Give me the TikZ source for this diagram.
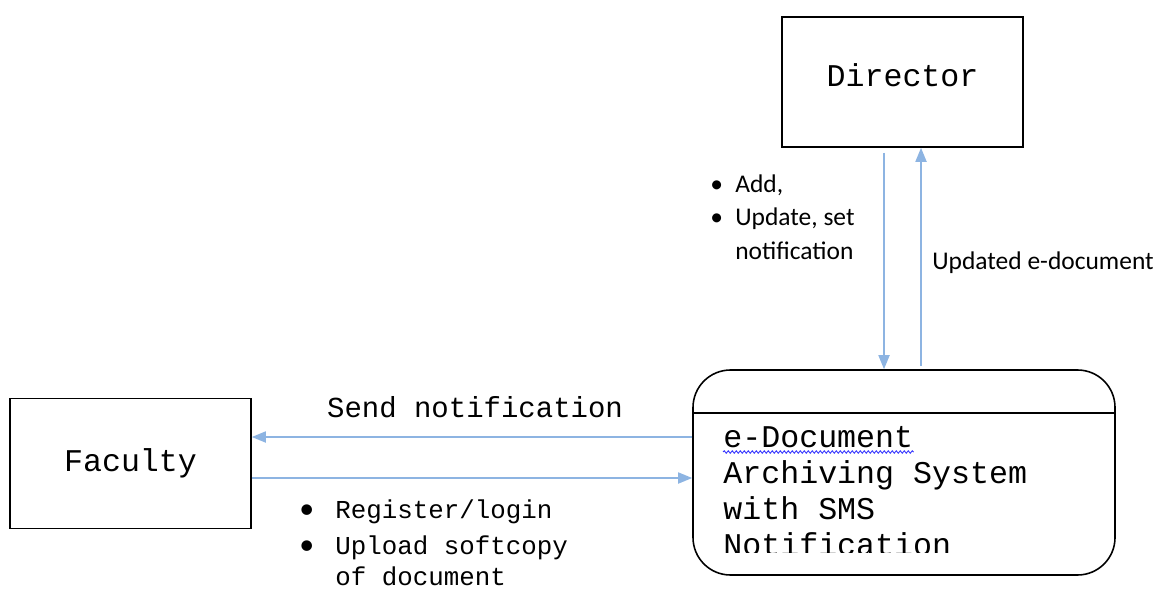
\documentclass[tikz,border=0pt]{standalone}
\usepackage{fontspec}
\setmainfont{Liberation Mono}
\newfontfamily\labelfont{Carlito}
\usetikzlibrary{arrows.meta,decorations.pathmorphing}
\definecolor{flowblue}{RGB}{141,180,226}
\tikzset{
    entity/.style={draw, line width=0.9pt, minimum width=4.82cm, minimum height=2.6cm, font=\fontsize{18}{20}\selectfont},
    flow/.style={draw=flowblue, line width=1pt, -{Triangle[length=0.28cm, width=0.22cm]}, fill=flowblue},
    systext/.style={anchor=base west, inner sep=0pt, font=\fontsize{18}{20}\selectfont},
    monolabel/.style={anchor=base west, inner sep=0pt, font=\fontsize{14.7}{17}\selectfont},
    dotlabel/.style={anchor=base west, inner sep=0pt, font=\labelfont\fontsize{17}{17}\selectfont},
    sanslabel/.style={anchor=base west, inner sep=0pt, font=\labelfont\fontsize{14.5}{17}\selectfont}
}
\begin{document}
\begin{tikzpicture}
            \useasboundingbox (0,0) rectangle (23.22,11.8);

            \node[entity] (fac) at (2.61, 2.53) {Faculty};
            \node[entity, text depth=0.28cm] (dir) at (18.05, 10.16) {Director};
            \node[draw, line width=0.9pt, rounded corners=0.75cm, minimum width=8.44cm, minimum height=4.1cm] (sys) at (18.08, 2.35) {};
            \draw[line width=0.9pt] (sys.west |- 0,3.54) -- (sys.east |- 0,3.54);

            % text of the store, cut at the bottom
            \begin{scope}
                \clip (13.9, 3.5) rectangle (22.2, 0.75);
                \node[systext] (t1) at (14.46, 2.86) {e-Document};
                \node[systext] (t2) at (14.46, 2.14) {Archiving System};
                \node[systext] (t3) at (14.46, 1.42) {with SMS};
                \node[systext] (t4) at (14.46, 0.70) {Notification};
            \end{scope}
            \draw[blue!80!white, line width=0.5pt, decorate, decoration={snake, amplitude=0.025cm, segment length=0.08cm}] (14.46, 2.76) -- (t1.base east |- 0,2.76);

            \coordinate (s1) at ([yshift=0.53cm]fac.east);
            \coordinate (s2) at ([yshift=-0.29cm]fac.east);
            \coordinate (d1) at ([xshift=-0.37cm, yshift=-0.1cm]dir.south);
            \coordinate (d2) at ([xshift=0.37cm]dir.south);

            \draw[flow] (s1 -| sys.west) -- (s1);
            \draw[flow] (s2) -- (s2 -| sys.west);
            \draw[flow] (d1) -- (d1 |- sys.north);
            \draw[flow] ([yshift=0.06cm]d2 |- sys.north) -- (d2);

            \node[font=\fontsize{16.5}{18}\selectfont] (lsend) at (9.5, 3.66) {Send notification};

            \node[dotlabel] (b1) at (5.98, 1.44) {\textbullet};
            \node[monolabel] (l1) at (6.7, 1.44) {Register/login};
            \node[dotlabel] (b2) at (5.98, 0.72) {\textbullet};
            \node[monolabel] (l2) at (6.7, 0.72) {Upload softcopy};
            \node[monolabel] (l3) at (6.7, 0.10) {of document};

            \node[sanslabel] (b3) at (14.2, 7.94) {\textbullet};
            \node[sanslabel] (l4) at (14.7, 7.94) {Add,};
            \node[sanslabel] (b4) at (14.2, 7.28) {\textbullet};
            \node[sanslabel] (l5) at (14.7, 7.28) {Update, set};
            \node[sanslabel] (l6) at (14.7, 6.62) {notification};
            \node[sanslabel] (l7) at (18.64, 6.42) {Updated e-document};

        \end{tikzpicture}
\end{document}
